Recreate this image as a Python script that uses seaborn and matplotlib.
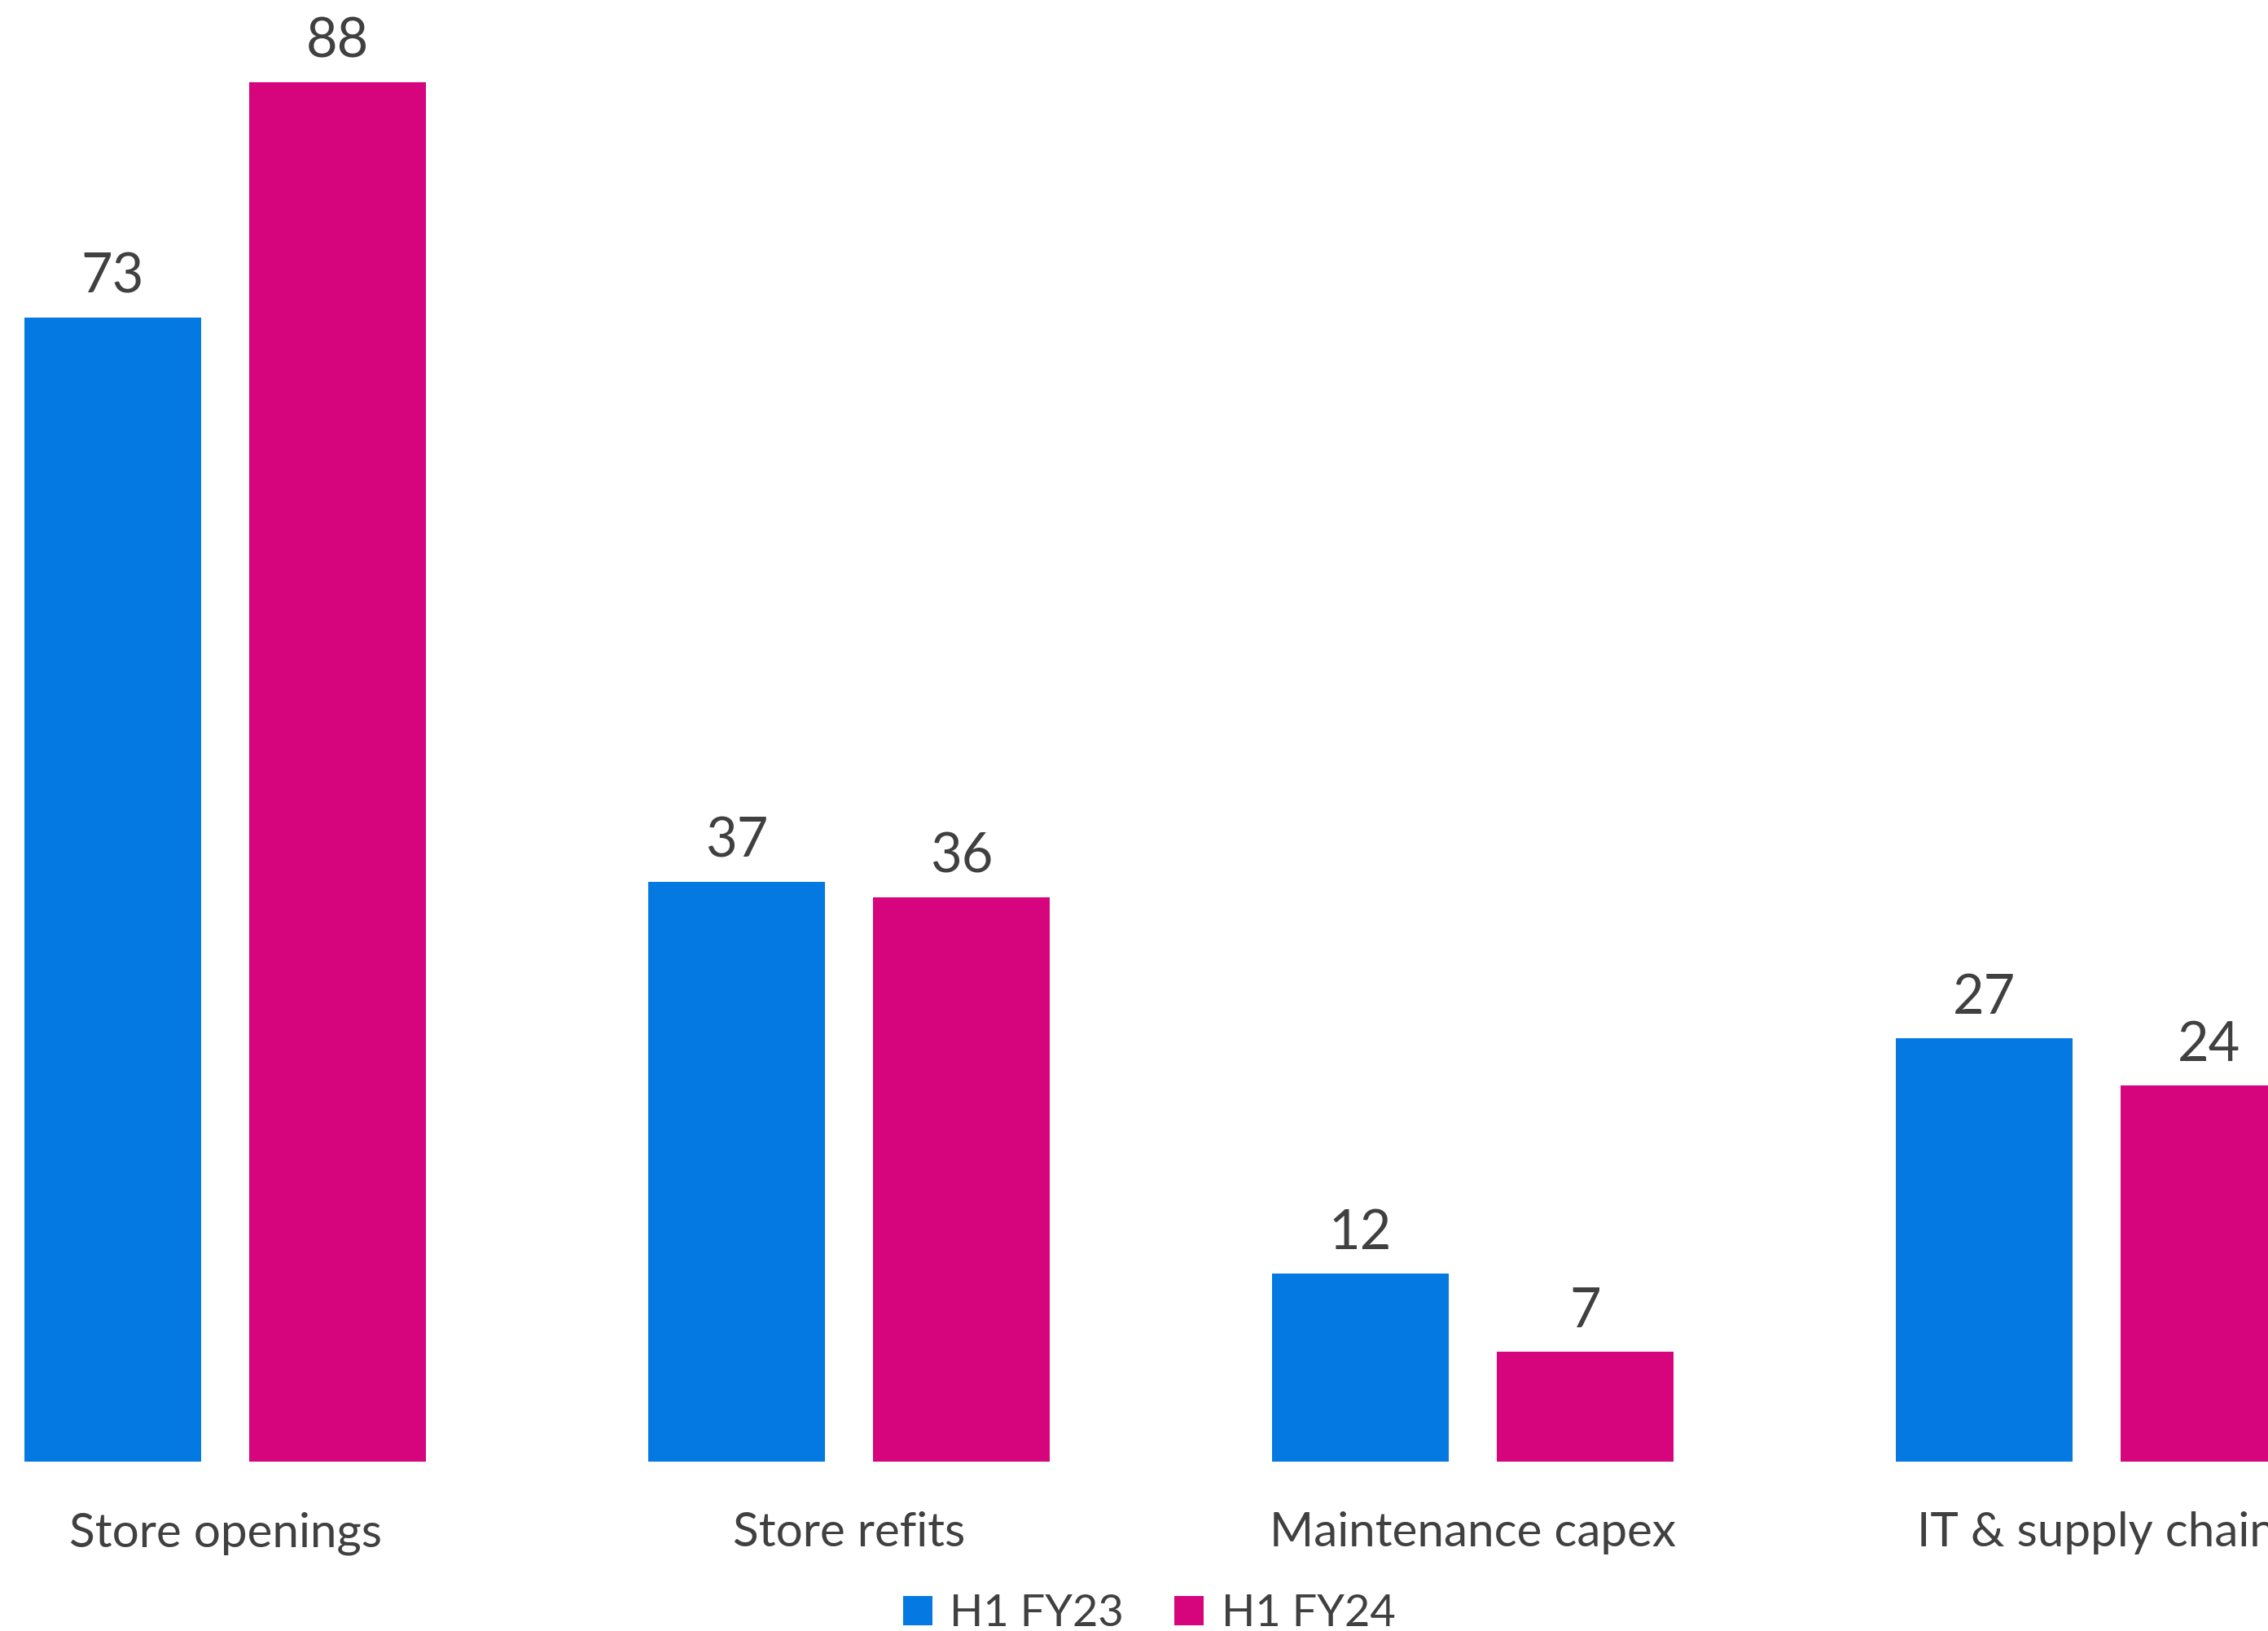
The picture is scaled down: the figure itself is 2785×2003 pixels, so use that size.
import matplotlib
matplotlib.use("Agg")
import matplotlib.pyplot as plt
import pandas as pd
import seaborn as sns

# Capex by category, £m
categories = ["Store openings", "Store refits", "Maintenance capex", "IT & supply chain"]
periods = ["H1 FY23", "H1 FY24"]
h1_fy23 = [73, 37, 12, 27]
h1_fy24 = [88, 36, 7, 24]
colors = ["#0479E1", "#D6047D"]
text_color = "#404040"

df = pd.DataFrame({
    "category": categories * 2,
    "period": [periods[0]] * len(categories) + [periods[1]] * len(categories),
    "value": h1_fy23 + h1_fy24,
})

sns.set_theme(style="white")
plt.rcParams["font.family"] = ["Lato", "DejaVu Sans"]

fig = plt.figure(figsize=(27.85, 20.03), dpi=100)
ax = fig.add_axes([0.0, 0.1038, 1.0, 0.8962])

sns.barplot(data=df, x="category", y="value", hue="period",
            order=categories, hue_order=periods, palette=colors,
            width=0.7206, gap=0.2137, saturation=1, linewidth=0,
            ax=ax)

ax.set_ylim(0, max(h1_fy23 + h1_fy24) * 1.0597)
ax.set_xlim(-0.361, 3.275)

# value labels above each bar
for container in ax.containers:
    for patch, val in zip(container.patches, container.datavalues):
        x = patch.get_x() + patch.get_width() / 2
        ax.annotate(f"{val:g}", xy=(x, patch.get_height()),
                    xytext=(0, 22), textcoords="offset points",
                    ha="center", va="baseline", fontsize=48,
                    color=text_color, annotation_clip=False)

ax.set_xlabel("")
ax.set_ylabel("")
ax.set_yticks([])
ax.tick_params(axis="x", length=0, pad=44, labelsize=42, labelcolor=text_color)
for s in ax.spines.values():
    s.set_visible(False)

handles, labels = ax.get_legend_handles_labels()
if ax.get_legend() is not None:
    ax.get_legend().remove()
fig.legend(handles, labels, loc="center", bbox_to_anchor=(0.5067, 0.0108),
           ncol=2, frameon=False, fontsize=39, labelcolor=text_color,
           handlelength=0.66, handleheight=0.66, handletextpad=0.4,
           columnspacing=1.15, borderpad=0, borderaxespad=0)

fig.savefig("out.png", dpi=100, facecolor="white")
